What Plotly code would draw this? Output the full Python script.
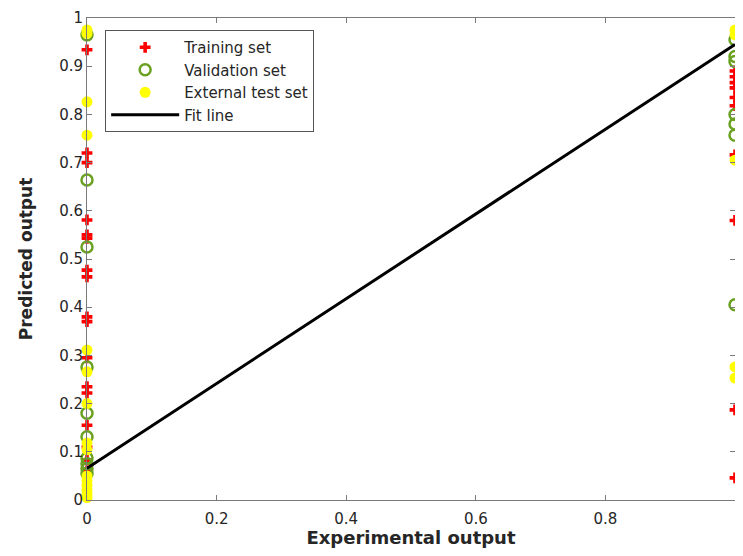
import plotly.graph_objects as go

# ---- data ----
train_left = [0.934, 0.72, 0.70, 0.581, 0.55, 0.543, 0.477, 0.463, 0.38, 0.37,
              0.295, 0.235, 0.222, 0.155, 0.11, 0.083, 0.06]
train_right = [0.89, 0.878, 0.866, 0.855, 0.835, 0.818, 0.716, 0.58, 0.187, 0.046]
valid_left = [0.965, 0.664, 0.525, 0.276, 0.18, 0.131, 0.087, 0.075, 0.065, 0.055]
valid_right = [0.955, 0.92, 0.91, 0.80, 0.78, 0.757, 0.405]
test_left = [0.975, 0.968, 0.826, 0.757, 0.311, 0.266, 0.2, 0.118, 0.104,
             0.05, 0.04, 0.03, 0.02, 0.012, 0.005]
test_right = [0.975, 0.965, 0.705, 0.276, 0.253]
fit_x = [0, 1]
fit_y = [0.066, 0.945]
x_ticks = [0, 0.2, 0.4, 0.6, 0.8, 1]
x_tick_labels = ["0", "0.2", "0.4", "0.6", "0.8", "1"]
y_ticks = [0, 0.1, 0.2, 0.3, 0.4, 0.5, 0.6, 0.7, 0.8, 0.9, 1]
y_tick_labels = ["0", "0.1", "0.2", "0.3", "0.4", "0.5", "0.6", "0.7", "0.8", "0.9", "1"]

RED = "#ff0000"
GREEN = "#6aa121"
YELLOW = "#ffff00"
AX = "#7a7a7a"
TXT = "#262626"
FONT = "DejaVu Sans, Arial, sans-serif"

fig = go.Figure()
fig.add_trace(go.Scatter(
    x=[0] * len(train_left) + [1] * len(train_right),
    y=train_left + train_right,
    mode="markers", name="Training set", cliponaxis=False,
    marker=dict(symbol="cross", size=9, color=RED, line=dict(width=0)),
))
fig.add_trace(go.Scatter(
    x=[0] * len(valid_left) + [1] * len(valid_right),
    y=valid_left + valid_right,
    mode="markers", name="Validation set", cliponaxis=False,
    marker=dict(symbol="circle-open", size=11, color=GREEN, line=dict(width=2.5, color=GREEN)),
))
fig.add_trace(go.Scatter(
    x=[0] * len(test_left) + [1] * len(test_right),
    y=test_left + test_right,
    mode="markers", name="External test set", cliponaxis=False,
    marker=dict(symbol="circle", size=11, color=YELLOW, line=dict(width=0)),
))
fig.add_trace(go.Scatter(
    x=fit_x, y=fit_y, mode="lines", name="Fit line", cliponaxis=False,
    line=dict(color="black", width=3),
))

fig.update_layout(
    width=727, height=540,
    margin=dict(l=79, r=0, t=10, b=48),
    paper_bgcolor="white", plot_bgcolor="white",
    font=dict(family=FONT, color=TXT, size=15),
    showlegend=True,
    legend=dict(
        x=0.028, y=0.975, xanchor="left", yanchor="top",
        bgcolor="white", bordercolor="#555555", borderwidth=1,
        font=dict(size=15, color=TXT, family=FONT), itemwidth=68,
        tracegroupgap=0,
    ),
    xaxis=dict(
        range=[0, 1.0], tickmode="array", tickvals=x_ticks, ticktext=x_tick_labels,
        showgrid=False, zeroline=False, showline=True, linecolor=AX, linewidth=1,
        mirror="ticks", ticks="inside", ticklen=5, tickcolor=AX, ticklabelstandoff=5,
        automargin=False,
        title=dict(text="<b>Experimental output</b>", font=dict(size=18, color=TXT, family=FONT), standoff=10),
    ),
    yaxis=dict(
        range=[0, 1.0], tickmode="array", tickvals=y_ticks, ticktext=y_tick_labels,
        showgrid=False, zeroline=False, showline=True, linecolor=AX, linewidth=1,
        mirror="ticks", ticks="inside", ticklen=5, tickcolor=AX,
        automargin=False,
        title=dict(text="<b>Predicted output</b>", font=dict(size=17, color=TXT, family=FONT), standoff=22),
    ),
)

fig.write_html("out.html")
